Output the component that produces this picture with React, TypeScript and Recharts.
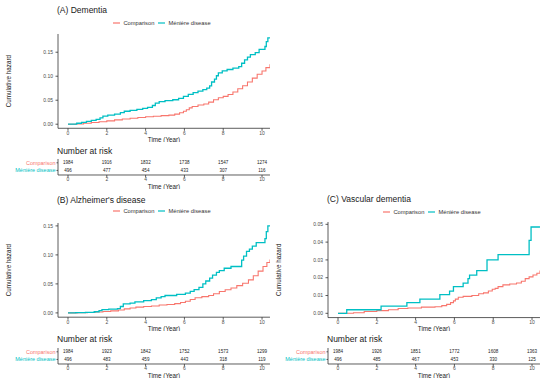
import React from "react";
import { LineChart, Line, XAxis, YAxis, ScatterChart, Scatter } from "recharts";

const RED = "#F8766D";
const TEAL = "#00BFC4";
const FONT = "'Liberation Sans', Arial, Helvetica, sans-serif";

const timeTicks = [0, 2, 4, 6, 8, 10];
const hazardTicks = [0, 0.05, 0.1, 0.15];
const vascularTicks = [0, 0.01, 0.02, 0.03, 0.04, 0.05];
const X_DOMAIN = [-0.515, 10.41];

// [time, cumulative hazard]
const dementiaComparison = [
  [0, 0], [0.4, 0.0005], [0.8, 0.002], [1.2, 0.0035], [1.6, 0.005], [2.0, 0.007],
  [2.4, 0.009], [2.8, 0.011], [3.2, 0.0125], [3.6, 0.014], [4.0, 0.0155], [4.4, 0.0165],
  [4.8, 0.018], [5.2, 0.019], [5.5, 0.021], [5.75, 0.024], [5.95, 0.027], [6.1, 0.03],
  [6.25, 0.034], [6.4, 0.037], [6.7, 0.04], [7.0, 0.042], [7.25, 0.046], [7.5, 0.051],
  [7.75, 0.055], [8.0, 0.058], [8.25, 0.062], [8.5, 0.067], [8.75, 0.074], [9.0, 0.08],
  [9.25, 0.088], [9.5, 0.096], [9.75, 0.104], [10.0, 0.111], [10.2, 0.118], [10.41, 0.125],
];
const dementiaMeniere = [
  [0, 0], [0.45, 0.002], [0.7, 0.004], [0.95, 0.006], [1.2, 0.008], [1.45, 0.01],
  [1.65, 0.013], [1.8, 0.017], [2.05, 0.019], [2.4, 0.021], [2.7, 0.024], [2.9, 0.027],
  [3.2, 0.029], [3.55, 0.031], [3.85, 0.033], [4.1, 0.035], [4.35, 0.039], [4.5, 0.044],
  [4.7, 0.047], [5.0, 0.049], [5.4, 0.051], [5.7, 0.054], [5.95, 0.058], [6.2, 0.062],
  [6.45, 0.066], [6.7, 0.069], [6.95, 0.072], [7.15, 0.075], [7.3, 0.08], [7.4, 0.088],
  [7.55, 0.094], [7.65, 0.101], [7.75, 0.107], [7.95, 0.111], [8.2, 0.114], [8.5, 0.117],
  [8.8, 0.12], [8.95, 0.127], [9.1, 0.134], [9.25, 0.14], [9.4, 0.145], [9.65, 0.149],
  [9.85, 0.156], [10.15, 0.162], [10.22, 0.172], [10.3, 0.18], [10.41, 0.18],
];

const alzComparison = [
  [0, 0], [0.5, 0.0003], [1.0, 0.0006], [1.4, 0.0015], [1.8, 0.0025], [2.2, 0.0035],
  [2.6, 0.005], [2.9, 0.007], [3.2, 0.0085], [3.5, 0.01], [3.9, 0.011], [4.3, 0.012],
  [4.7, 0.0135], [5.1, 0.0145], [5.5, 0.016], [5.8, 0.018], [6.05, 0.02], [6.3, 0.023],
  [6.55, 0.026], [6.9, 0.028], [7.25, 0.03], [7.5, 0.033], [7.8, 0.037], [8.1, 0.04],
  [8.4, 0.043], [8.7, 0.047], [9.0, 0.051], [9.3, 0.057], [9.55, 0.064], [9.8, 0.072],
  [10.05, 0.08], [10.25, 0.087], [10.41, 0.092],
];
const alzMeniere = [
  [0, 0], [0.4, 0.0005], [0.9, 0.001], [1.35, 0.002], [1.6, 0.004], [1.75, 0.0055],
  [2.1, 0.0065], [2.55, 0.0075], [2.7, 0.011], [2.85, 0.0155], [3.2, 0.017], [3.45, 0.019],
  [3.9, 0.021], [4.3, 0.023], [4.55, 0.026], [4.8, 0.028], [5.0, 0.03], [5.6, 0.032],
  [6.05, 0.034], [6.3, 0.037], [6.5, 0.04], [6.75, 0.044], [6.95, 0.05], [7.1, 0.055],
  [7.3, 0.06], [7.45, 0.065], [7.65, 0.07], [7.8, 0.073], [8.05, 0.077], [8.4, 0.08],
  [8.95, 0.091], [9.05, 0.098], [9.2, 0.106], [9.35, 0.11], [9.5, 0.115], [9.7, 0.121],
  [10.15, 0.128], [10.22, 0.14], [10.3, 0.15], [10.41, 0.15],
];

const vascComparison = [
  [0, 0], [0.8, 0.0003], [1.35, 0.001], [2.0, 0.0015], [2.6, 0.002], [3.1, 0.0027],
  [3.6, 0.003], [4.3, 0.0035], [5.0, 0.0037], [5.35, 0.0043], [5.6, 0.005], [5.8, 0.006],
  [5.95, 0.007], [6.05, 0.008], [6.2, 0.009], [6.45, 0.0095], [6.9, 0.01], [7.25, 0.011],
  [7.5, 0.0115], [7.75, 0.0125], [7.95, 0.0135], [8.1, 0.014], [8.25, 0.015], [8.5, 0.016],
  [8.85, 0.0165], [9.2, 0.017], [9.45, 0.018], [9.65, 0.0195], [9.85, 0.0205],
  [10.05, 0.0215], [10.25, 0.0225], [10.41, 0.024],
];
const vascMeniere = [
  [0, 0], [0.45, 0.002], [2.22, 0.004], [3.55, 0.006], [4.22, 0.008], [5.25, 0.0105],
  [5.75, 0.0125], [5.95, 0.015], [6.45, 0.017], [6.7, 0.0195], [6.78, 0.0215], [7.15, 0.024],
  [7.68, 0.03], [8.25, 0.033], [9.85, 0.041], [9.95, 0.0485], [10.41, 0.0485],
];

// number at risk at 0, 2, 4, 6, 8, 10 years
const riskTimes = [0, 2, 4, 6, 8, 10];
const dementiaRiskComparison = [1984, 1916, 1832, 1738, 1547, 1274];
const dementiaRiskMeniere = [496, 477, 454, 433, 307, 116];
const alzRiskComparison = [1984, 1923, 1842, 1752, 1573, 1299];
const alzRiskMeniere = [496, 483, 459, 443, 318, 119];
const vascRiskComparison = [1984, 1926, 1851, 1772, 1608, 1363];
const vascRiskMeniere = [496, 485, 467, 453, 330, 125];

const toPoints = (arr: number[][]) => arr.map(([t, v]) => ({ t, v }));

const AXIS = "#333333";
const TICK = "#4D4D4D";
const TOP_PAD = 4;
const AXIS_H = 13.6;
const CHART_W = 280;
const Y_AXIS_W = 58;

const xAxisProps = {
  type: "number" as const,
  dataKey: "t",
  domain: X_DOMAIN,
  ticks: timeTicks,
  interval: 0,
  allowDataOverflow: true,
  height: AXIS_H,
  tickSize: 2.5,
  tickMargin: 0.3,
  tick: { fontSize: 5, fill: TICK },
  axisLine: { stroke: AXIS, strokeWidth: 0.8 },
  tickLine: { stroke: AXIS, strokeWidth: 0.8 },
  label: { value: "Time (Year)", position: "insideBottom", offset: 0, fontSize: 6.3, fill: "#1a1a1a" },
};

function Title({ left, cy, size, children }: any) {
  return (
    <div style={{ position: "absolute", left, top: cy - size / 2, fontSize: size, lineHeight: 1, color: "#1a1a1a", whiteSpace: "nowrap" }}>
      {children}
    </div>
  );
}

function LegendRow({ left, cy }: any) {
  const item = (color: string, text: string) => (
    <span style={{ display: "inline-flex", alignItems: "center", marginRight: 4 }}>
      <svg width={7} height={4} style={{ marginRight: 3 }}>
        <line x1={0} y1={2} x2={7} y2={2} stroke={color} strokeWidth={1.2} />
      </svg>
      <span>{text}</span>
    </span>
  );
  return (
    <div style={{ position: "absolute", left: left + Y_AXIS_W, width: 212, top: cy - 4, height: 8, display: "flex", justifyContent: "center", alignItems: "center", fontSize: 5.75, color: "#333" }}>
      {item(RED, "Comparison")}
      {item(TEAL, "Ménière disease")}
    </div>
  );
}

function HazardPlot({ left, plotTop, plotBottom, yDomain, yTicks, comparison, meniere }: any) {
  const height = plotBottom - plotTop + TOP_PAD + AXIS_H;
  return (
    <div style={{ position: "absolute", left, top: plotTop - TOP_PAD }}>
      <LineChart width={CHART_W} height={height} margin={{ top: TOP_PAD, right: 10, bottom: 0, left: 0 }}>
        <XAxis {...(xAxisProps as any)} />
        <YAxis
          type="number"
          domain={yDomain}
          ticks={yTicks}
          interval={0}
          allowDataOverflow
          width={Y_AXIS_W}
          tickSize={2.5}
          tickMargin={2.5}
          tickFormatter={(v: number) => v.toFixed(2)}
          tick={{ fontSize: 5, fill: TICK }}
          axisLine={{ stroke: AXIS, strokeWidth: 0.8 }}
          tickLine={{ stroke: AXIS, strokeWidth: 0.8 }}
          label={{
            value: "Cumulative hazard",
            angle: -90,
            position: "insideLeft",
            offset: 8.5,
            fontSize: 6.3,
            fill: "#1a1a1a",
            style: { textAnchor: "middle" },
          }}
        />
        <Line data={toPoints(comparison)} dataKey="v" type="stepAfter" stroke={RED} strokeWidth={1.1} dot={false} isAnimationActive={false} />
        <Line data={toPoints(meniere)} dataKey="v" type="stepAfter" stroke={TEAL} strokeWidth={1.3} dot={false} isAnimationActive={false} />
      </LineChart>
    </div>
  );
}

function RowTick({ x, y, payload }: any) {
  const isComp = payload.value > 1;
  return (
    <text x={x} y={y} dy="0.355em" textAnchor="end" fontSize={5.5} fill={isComp ? RED : TEAL}>
      {isComp ? "Comparison" : "Ménière disease"}
    </text>
  );
}

const countShape = (props: any) => (
  <text x={props.cx} y={props.cy} dy="0.355em" textAnchor="middle" fontSize={4.6} fill="#222">
    {props.payload.n}
  </text>
);

function RiskTable({ left, plotTop, comparison, meniere }: any) {
  const rows = [
    ...comparison.map((n: number, i: number) => ({ t: riskTimes[i], row: 1.5, n })),
    ...meniere.map((n: number, i: number) => ({ t: riskTimes[i], row: 0.5, n })),
  ];
  const plotH = 16;
  return (
    <div style={{ position: "absolute", left, top: plotTop - TOP_PAD }}>
      <ScatterChart width={CHART_W} height={plotH + TOP_PAD + AXIS_H} margin={{ top: TOP_PAD, right: 10, bottom: 0, left: 0 }}>
        <XAxis {...(xAxisProps as any)} />
        <YAxis
          type="number"
          dataKey="row"
          domain={[-0.1, 2]}
          ticks={[0.5, 1.5]}
          interval={0}
          width={Y_AXIS_W}
          tickSize={1.5}
          tickMargin={1}
          tick={<RowTick />}
          axisLine={{ stroke: AXIS, strokeWidth: 0.8 }}
          tickLine={{ stroke: AXIS, strokeWidth: 0.8 }}
        />
        <Scatter data={rows} shape={countShape} isAnimationActive={false} />
      </ScatterChart>
    </div>
  );
}

export default function App() {
  return (
    <div style={{ position: "absolute", left: 0, top: 0, width: 550, height: 384, background: "#fff", overflow: "hidden", fontFamily: FONT }}>
      {/* (A) */}
      <Title left={57} cy={10} size={8.5}>(A) Dementia</Title>
      <LegendRow left={0} cy={23.3} />
      <HazardPlot left={0} plotTop={33.8} plotBottom={128.1} yDomain={[-0.0085, 0.188]} yTicks={hazardTicks}
        comparison={dementiaComparison} meniere={dementiaMeniere} />
      <Title left={57} cy={151.7} size={8.5}>Number at risk</Title>
      <RiskTable left={0} plotTop={159} comparison={dementiaRiskComparison} meniere={dementiaRiskMeniere} />

      {/* (B) */}
      <Title left={57} cy={200} size={8.5}>(B) Alzheimer's disease</Title>
      <LegendRow left={0} cy={211.3} />
      <HazardPlot left={0} plotTop={223.1} plotBottom={317.3} yDomain={[-0.0074, 0.155]} yTicks={hazardTicks}
        comparison={alzComparison} meniere={alzMeniere} />
      <Title left={57} cy={339.3} size={8.5}>Number at risk</Title>
      <RiskTable left={0} plotTop={348} comparison={alzRiskComparison} meniere={alzRiskMeniere} />

      {/* (C) */}
      <Title left={327} cy={199.5} size={8.5}>(C) Vascular dementia</Title>
      <LegendRow left={270} cy={211.5} />
      <HazardPlot left={270} plotTop={221.7} plotBottom={317.3} yDomain={[-0.0024, 0.0513]} yTicks={vascularTicks}
        comparison={vascComparison} meniere={vascMeniere} />
      <Title left={327} cy={339.3} size={8.5}>Number at risk</Title>
      <RiskTable left={270} plotTop={348} comparison={vascRiskComparison} meniere={vascRiskMeniere} />
    </div>
  );
}
